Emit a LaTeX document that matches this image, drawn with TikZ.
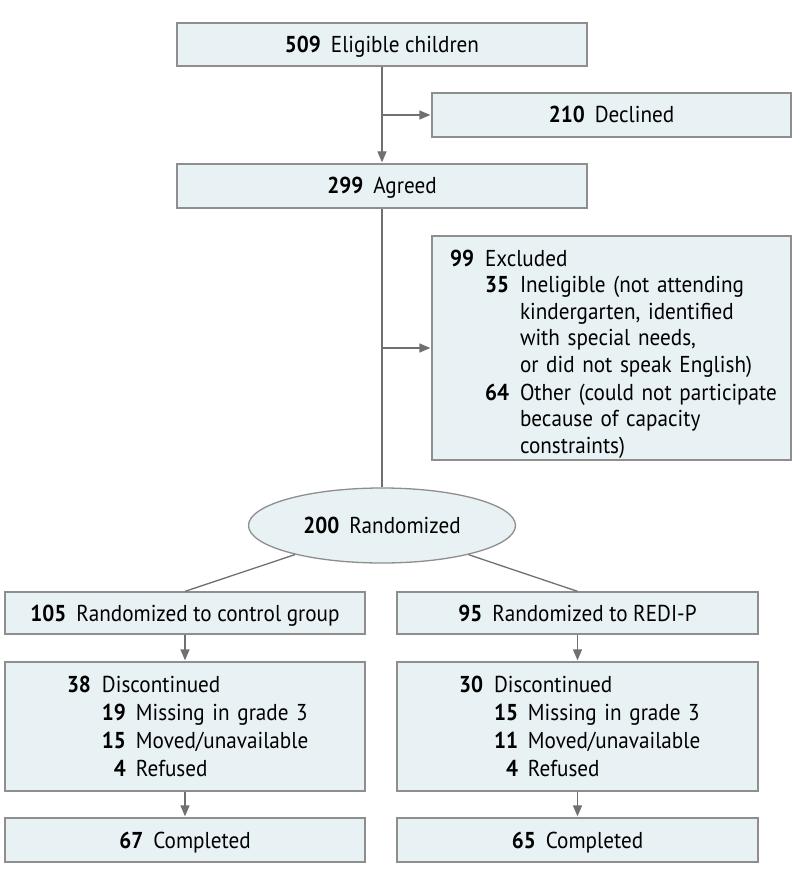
\documentclass[tikz,border=0pt]{standalone}
\usepackage{fontspec}
\setmainfont{PT Sans}[FakeStretch=0.92]
\usetikzlibrary{arrows.meta,shapes.geometric}

\definecolor{boxfill}{HTML}{E8F2F4}
\definecolor{boxline}{HTML}{8E8E8E}
\definecolor{linkgray}{HTML}{707070}

\newcommand{\cnt}[2]{\textbf{#1}\hspace{10pt}#2}

\tikzset{
    stage/.style={rectangle, draw=boxline, fill=boxfill, line width=1.3pt,
        inner sep=0pt, font=\fontsize{23}{26.5}\selectfont,
        text height=16pt, text depth=0pt},
    stagelist/.style={rectangle, draw=boxline, fill=boxfill, line width=1.3pt,
        inner sep=0pt, font=\fontsize{23}{26.5}\selectfont, align=left,
        text height=30pt},
    flow/.style={draw=linkgray, line width=1.3pt, shorten >=1pt,
        -{Triangle[length=11pt,width=9pt]}},
    link/.style={draw=linkgray, line width=1.3pt}
}

\begin{document}
\begin{tikzpicture}[x=1pt, y=-1pt]
    \useasboundingbox (0,0) rectangle (798,882);

    % enrolment
    \node[stage, minimum width=410pt, minimum height=43pt] (elig) at (382,44.5) {\cnt{509}{Eligible children}};
    \node[stage, minimum width=359pt, minimum height=44pt] (decl) at (611.5,115) {\cnt{210}{Declined}};
    \node[stage, minimum width=410pt, minimum height=44pt] (agree) at (382,186) {\cnt{299}{Agreed}};
    \node[stagelist, minimum width=359pt, text width=323pt, text depth=194pt] (excl) at (611.5,348) {%
        \begin{tabular}[t]{@{}r@{\hspace{11pt}}r@{\hspace{11pt}}l@{}}
            \textbf{99} & \multicolumn{2}{@{}l@{}}{Excluded}\\
            & \textbf{35} & Ineligible (not attending\\
            & & kindergarten, identified\\
            & & with special needs,\\
            & & or did not speak English)\\[1.5pt]
            & \textbf{64} & Other (could not participate\\
            & & because of capacity\\
            & & constraints)
        \end{tabular}};
    \node[ellipse, draw=boxline, fill=boxfill, line width=1.3pt, inner sep=0pt,
        minimum width=267pt, minimum height=75pt, font=\fontsize{23}{26.5}\selectfont] (rand) at (382,525.5) {\cnt{200}{Randomized}};

    % allocation
    \node[stage, minimum width=360pt, minimum height=42pt] (ctl) at (185,613) {\cnt{105}{Randomized to control group}};
    \node[stage, minimum width=361pt, minimum height=42pt] (redi) at (577.5,613) {\cnt{95}{Randomized to REDI-P}};

    % follow-up
    \node[stagelist, minimum width=360pt, text width=236pt, text depth=99pt] (ctldisc) at (185,726.5) {%
        \begin{tabular}[t]{@{}r@{\hspace{11pt}}r@{\hspace{10pt}}l@{}}
            \textbf{38} & \multicolumn{2}{@{}l@{}}{Discontinued}\\[1.8pt]
            & \textbf{19} & Missing in grade 3\\[1.8pt]
            & \textbf{15} & Moved/unavailable\\[1.8pt]
            & \textbf{4} & Refused
        \end{tabular}};
    \node[stagelist, minimum width=361pt, text width=237pt, text depth=99pt] (redidisc) at (577.5,726.5) {%
        \begin{tabular}[t]{@{}r@{\hspace{11pt}}r@{\hspace{10pt}}l@{}}
            \textbf{30} & \multicolumn{2}{@{}l@{}}{Discontinued}\\[1.8pt]
            & \textbf{15} & Missing in grade 3\\[1.8pt]
            & \textbf{11} & Moved/unavailable\\[1.8pt]
            & \textbf{4} & Refused
        \end{tabular}};
    \node[stage, minimum width=360pt, minimum height=44pt] (ctldone) at (185,840) {\cnt{67}{Completed}};
    \node[stage, minimum width=361pt, minimum height=44pt] (redidone) at (577.5,840) {\cnt{65}{Completed}};

    % connectors
    \draw[flow] (elig) -- (agree);
    \draw[flow] (elig.south |- decl.west) -- (decl);
    \draw[link] (agree) -- (rand);
    \draw[flow] (agree.south |- excl.west) -- (excl);
    \draw[link] (rand) -- (ctl.north);
    \draw[link] (rand) -- (redi.north);
    \draw[flow] (ctl) -- (ctldisc);
    \draw[flow] (redi) -- (redidisc);
    \draw[flow] (ctldisc) -- (ctldone);
    \draw[flow] (redidisc) -- (redidone);
\end{tikzpicture}
\end{document}
